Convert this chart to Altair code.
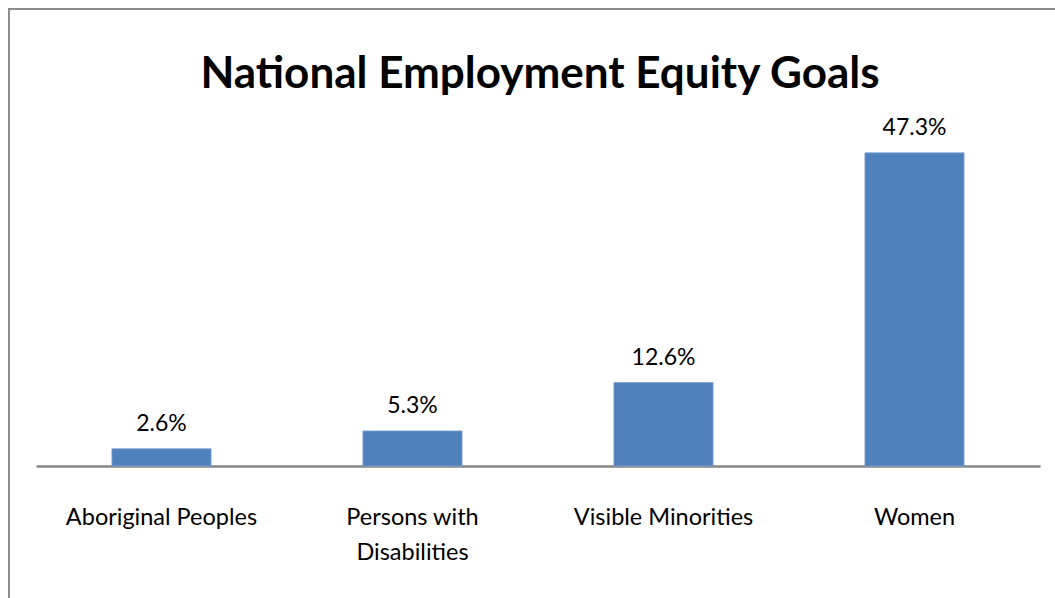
import altair as alt
import pandas as pd

categories = ["Aboriginal Peoples", "Persons with Disabilities", "Visible Minorities", "Women"]
values = [2.6, 5.3, 12.6, 47.3]
labels = ["2.6%", "5.3%", "12.6%", "47.3%"]

df = pd.DataFrame({"cat": categories, "val": values, "lab": labels})

FONT = "Lato"

x_enc = alt.X(
    "cat:N",
    sort=categories,
    title=None,
    scale=alt.Scale(paddingInner=0.605, paddingOuter=0.3025),
    axis=alt.Axis(
        labelAngle=0,
        labelFont=FONT,
        labelFontSize=23.5,
        labelColor="#000000",
        labelPadding=39,
        labelLineHeight=35,
        labelBaseline="top",
        labelLimit=400,
        ticks=False,
        domainColor="#868686",
        domainWidth=2.5,
        labelExpr="datum.label == 'Persons with Disabilities' ? ['Persons with', 'Disabilities'] : datum.label",
    ),
)
y_enc = alt.Y("val:Q", scale=alt.Scale(domain=[0, 50], nice=False), axis=None)

base = alt.Chart(df)

border = base.mark_rect(fill=None, stroke="#8c8c8c", strokeWidth=2).encode(
    x=alt.value(-27), y=alt.value(-126), x2=alt.value(1200), y2=alt.value(800)
).transform_filter("datum.cat == 'Women'")

bars = base.mark_bar(color="#4F81BD", stroke="#7FA2CF", strokeWidth=0.8).encode(x=x_enc, y=y_enc)

text = base.mark_text(font=FONT, fontSize=23, color="#000000", dy=-25).encode(
    x=alt.X("cat:N", sort=categories), y="val:Q", text="lab:N"
)

title = base.mark_text(font=FONT, fontSize=44, fontWeight="bold", color="#000000", baseline="alphabetic").encode(
    x=alt.value(504), y=alt.value(-47), text=alt.value("National Employment Equity Goals")
).transform_filter("datum.cat == 'Women'")

chart = alt.layer(border, bars, text, title).properties(
    width=1004,
    height=331,
    background="white",
    autosize=alt.AutoSizeParams(type="none"),
    padding={"left": 36, "top": 135, "right": 15, "bottom": 132},
).configure_view(stroke=None, strokeWidth=0)

chart.save("out.html", embed_options={"renderer": "svg", "actions": False})
